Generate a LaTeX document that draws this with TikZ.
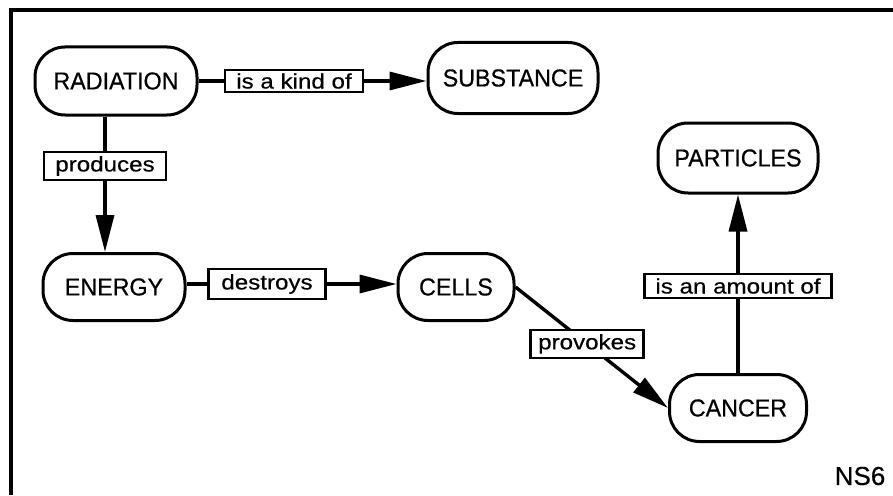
\documentclass[tikz,border=0pt]{standalone}
\usepackage{fontspec}
\setmainfont{Liberation Sans}[FakeBold=0.5]
\newfontfamily\labfont{Liberation Sans}[FakeStretch=1.15,FakeBold=0.5]
\newfontfamily\confont{Liberation Sans}[FakeStretch=0.95,FakeBold=0.5]
\usetikzlibrary{arrows.meta,calc}
\begin{document}
\begin{tikzpicture}[x=1pt,y=-1pt,
  concept/.style={draw,line width=3pt,rounded corners=30pt,inner sep=0pt,
    minimum height=68pt,font=\confont\fontsize{24.5}{26}\selectfont},
  lab/.style={draw,fill=white,line width=2.6pt,inner sep=0pt,
    font=\labfont\fontsize{21}{23}\selectfont},
  conn/.style={line width=3.4pt},
  arr/.style={line width=3.4pt,-{Triangle[length=37pt,width=18pt]}}]
\useasboundingbox (0,0) rectangle (893,495);
\draw[line width=3.4pt] (893,10) coordinate (tr) -- (11,10) coordinate (tl) -- (11,495) coordinate (bl);

\node[concept,minimum width=162pt] (rad) at (116,81) {RADIATION};
\node[concept,minimum width=170pt,minimum height=71pt] (sub) at (513,78) {SUBSTANCE};
\node[concept,minimum width=160pt,minimum height=70pt] (part) at (738,158) {PARTICLES};
\node[concept,minimum width=142pt,minimum height=67pt] (energy) at (114,287) {ENERGY};
\node[concept,minimum width=116pt,minimum height=67pt] (cells) at (456,287) {CELLS};
\node[concept,minimum width=137pt,minimum height=67pt] (cancer) at (738,408) {CANCER};

\node[lab,minimum width=138pt,minimum height=22pt] (kind) at (294,81) {is a kind of};
\node[lab,minimum width=122pt,minimum height=28pt] (prod) at (105,166) {produces};
\node[lab,minimum width=117pt,minimum height=30pt] (destr) at (267,284) {destroys};
\node[lab,minimum width=187pt,minimum height=24pt] (amount) at (738,286) {is an amount of};

\draw[conn] (rad.east |- kind) -- (kind.west);
\draw[arr] (kind.east) -- (sub.west |- kind);

\draw[conn] (rad.south -| prod) -- (prod.north);
\draw[arr] (prod.south) -- (energy.north -| prod);

\draw[conn] (energy.east |- destr) -- (destr.west);
\draw[arr] (destr.east) -- (cells.west |- destr);

\draw[arr] (cells.east) -- (cancer.west)
  node[lab,pos=0.47,minimum width=113pt,minimum height=28pt] (prov) {provokes};

\draw[conn] (cancer.north) -- (amount.south);
\draw[arr] (amount.north) -- (part.south);

\node[font=\fontsize{26}{28}\selectfont] (ns) at (860,476) {NS6};
\end{tikzpicture}
\end{document}
